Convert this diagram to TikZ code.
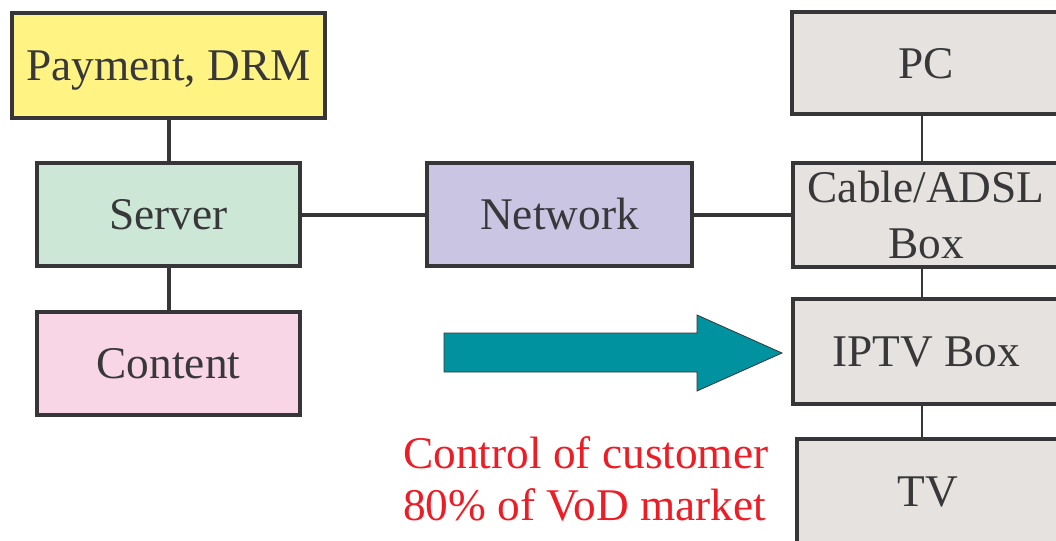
\documentclass[tikz,border=0pt]{standalone}
\usepackage{fontspec}
\setmainfont{Liberation Serif}
\definecolor{boxline}{HTML}{363638}
\definecolor{boxtext}{HTML}{38383A}
\definecolor{payfill}{HTML}{FFF483}
\definecolor{srvfill}{HTML}{CCE7D6}
\definecolor{cntfill}{HTML}{F9D6E5}
\definecolor{netfill}{HTML}{C9C5E3}
\definecolor{devfill}{HTML}{E6E2DF}
\definecolor{arrfill}{HTML}{00939F}
\definecolor{ctlred}{HTML}{EE1C25}

\begin{document}
\begin{tikzpicture}[x=0.75pt,y=-0.75pt,
    box/.style={draw=boxline,line width=3pt,text=boxtext,inner sep=0pt,
        font=\fontsize{34}{42}\selectfont,text height=30.3pt,text depth=7.3pt},
    thickline/.style={draw=boxline,line width=3pt},
    thinline/.style={draw=boxline,line width=1pt}]
\useasboundingbox (0,0) rectangle (1056,540);
\clip (0,0) rectangle (1056,540);

\node[box,fill=payfill,minimum width=234.75pt,minimum height=78.75pt] (pay) at (168.5,65.5) {Payment, DRM};
\node[box,fill=srvfill,minimum width=197.25pt,minimum height=77.25pt] (srv) at (168.5,214.5) {Server};
\node[box,fill=cntfill,minimum width=197.25pt,minimum height=77.25pt] (cnt) at (168.5,363.5) {Content};
\node[box,fill=netfill,minimum width=198.75pt,minimum height=77.25pt] (net) at (559.5,214.5) {Network};

\node[box,fill=devfill,minimum width=201pt,minimum height=76.5pt] (pc) at (926,63) {PC};
\node[box,fill=devfill,minimum width=199.5pt,minimum height=78pt,align=center,
    text height=,text depth=] (modem) at (926,214.5) {\raisebox{-4.5pt}{Cable/ADSL}\\\raisebox{-4.5pt}{Box}};
\node[box,fill=devfill,minimum width=199.5pt,minimum height=78.75pt] (iptv) at (926,351.5) {IPTV Box};
\node[box,fill=devfill,minimum width=196.5pt,minimum height=78.75pt] (tv) at (928,491.5) {TV};

\draw[thickline] (pay) -- (srv);
\draw[thickline] (srv) -- (cnt);
\draw[thickline] (srv) -- (net);
\draw[thickline] (net) -- (modem);
\draw[thinline] ([xshift=-3pt]pc.south) -- ([xshift=-3pt]modem.north);
\draw[thinline] ([xshift=-3pt]modem.south) -- ([xshift=-3pt]iptv.north);
\draw[thinline] ([xshift=-3pt]iptv.south) -- ([xshift=-3pt]iptv.south |- tv.north);

\draw[draw=boxline,line width=0.6pt,fill=arrfill] (444,333) -- (697,333) -- (697,315)
    -- (782,353) -- (697,391) -- (697,372) -- (444,372) -- cycle;

\node[anchor=base west,align=left,inner sep=0pt,text=ctlred,
    font=\fontsize{34}{39}\selectfont] (ctl) at (403,520) {Control of customer\\80\% of VoD market};
\end{tikzpicture}
\end{document}
